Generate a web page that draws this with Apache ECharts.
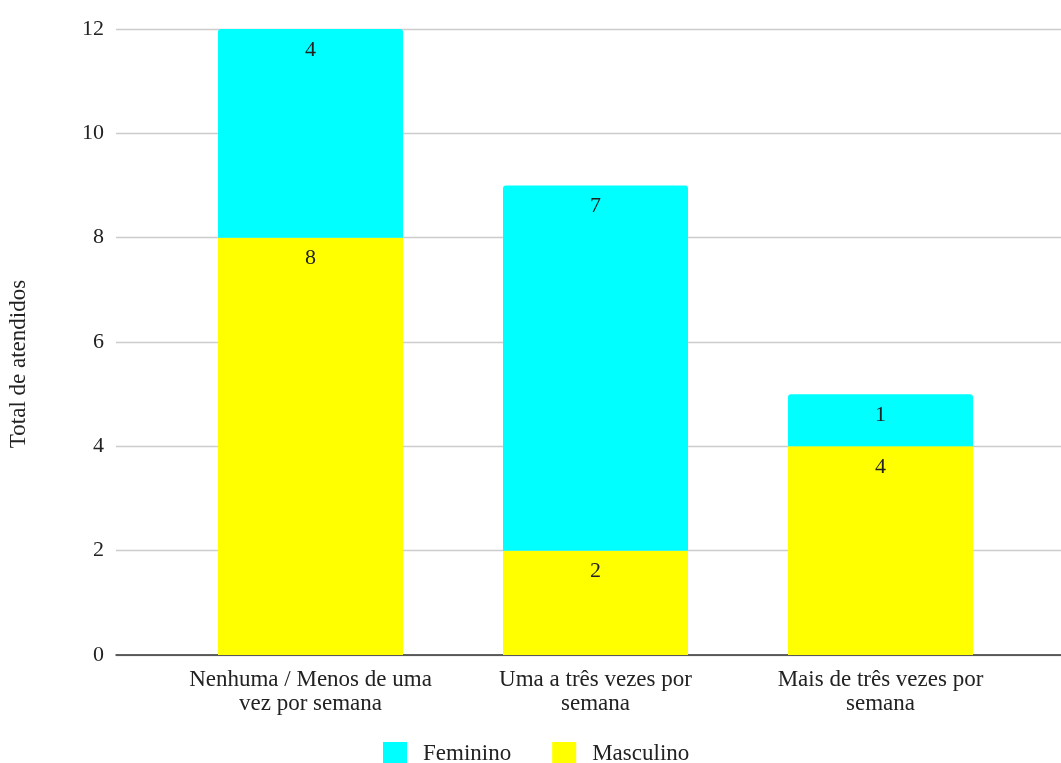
<!DOCTYPE html>
<html>
<head>
<meta charset="utf-8">
<script src="https://cdn.jsdelivr.net/npm/echarts@6/dist/echarts.min.js"></script>
<style>
  html, body { margin: 0; padding: 0; background: #fff; }
  #chart { width: 1061px; height: 763px; }
</style>
</head>
<body>
<div id="chart"></div>
<script>
// Frequency categories (x axis)
const categories = ['Nenhuma / Menos de uma\nvez por semana', 'Uma a três vezes por\nsemana', 'Mais de três vezes por\nsemana'];
// Attendees per category, by sex
const masculino = [8, 2, 4];
const feminino = [4, 7, 1];
const yTicks = { min: 0, max: 12, interval: 2 };

const FONT = '"Liberation Serif", "Times New Roman", serif';
const TEXT = '#222';

const chart = echarts.init(document.getElementById('chart'));

chart.setOption({
  backgroundColor: '#fff',
  textStyle: { fontFamily: FONT },
  legend: {
    data: ['Feminino', 'Masculino'],
    top: 742,
    left: 383,
    padding: 0,
    itemWidth: 24,
    itemHeight: 24,
    itemGap: 41,
    icon: 'rect',
    textStyle: { fontFamily: FONT, fontSize: 23, color: TEXT, padding: [0, 0, 0, 11] }
  },
  grid: [
    // frame grid: y ticks, gridlines and baseline across the full width
    { left: 116, right: 0, top: 29, bottom: 108, outerBoundsMode: 'none', containLabel: false },
    // bar grid
    { left: 168, right: 38, top: 29, bottom: 108, outerBoundsMode: 'none', containLabel: false }
  ],
  xAxis: [
    {
      type: 'category', gridIndex: 0, data: [''],
      axisLine: { show: true, lineStyle: { color: '#333', width: 1.5 } },
      axisTick: { show: false }, axisLabel: { show: false }
    },
    {
      type: 'category', gridIndex: 1, data: categories,
      axisLine: { show: false }, axisTick: { show: false },
      axisLabel: {
        fontFamily: FONT, fontSize: 23, color: TEXT, margin: 13, lineHeight: 24, interval: 0
      }
    }
  ],
  yAxis: [
    {
      type: 'value', gridIndex: 0,
      min: yTicks.min, max: yTicks.max, interval: yTicks.interval,
      name: 'Total de atendidos', nameLocation: 'middle', nameGap: 86, nameRotate: 90,
      nameTextStyle: { fontFamily: FONT, fontSize: 23, color: TEXT, padding: [0, 44, 0, 0] },
      axisLine: { show: false }, axisTick: { show: false },
      axisLabel: { fontFamily: FONT, fontSize: 22, color: TEXT, margin: 12 },
      splitLine: { show: true, lineStyle: { color: '#cccccc', width: 1.3 } }
    },
    {
      type: 'value', gridIndex: 1,
      min: yTicks.min, max: yTicks.max, interval: yTicks.interval,
      axisLine: { show: false }, axisTick: { show: false },
      axisLabel: { show: false }, splitLine: { show: false }
    }
  ],
  series: [
    {
      name: 'Masculino', type: 'bar', stack: 'total',
      xAxisIndex: 1, yAxisIndex: 1,
      data: masculino, barWidth: 185,
      itemStyle: { color: '#ffff00' },
      label: {
        show: true, position: 'insideTop', distance: 10,
        fontFamily: FONT, fontSize: 22, color: TEXT
      },
      z: 3
    },
    {
      name: 'Feminino', type: 'bar', stack: 'total',
      xAxisIndex: 1, yAxisIndex: 1,
      data: feminino, barWidth: 185,
      itemStyle: { color: '#00ffff', borderRadius: [3, 3, 0, 0] },
      label: {
        show: true, position: 'insideTop', distance: 10,
        fontFamily: FONT, fontSize: 22, color: TEXT
      },
      z: 3
    }
  ]
});
</script>
</body>
</html>
